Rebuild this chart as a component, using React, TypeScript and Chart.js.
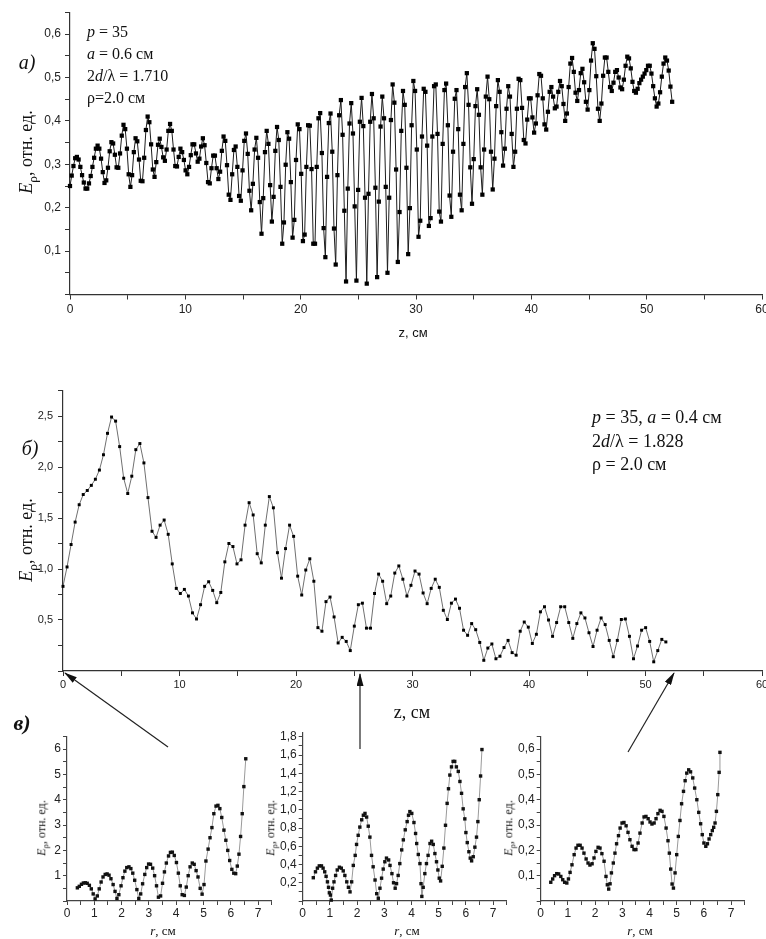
import React, { useEffect, useRef } from "react";
import { Chart, registerables } from "chart.js";

Chart.register(...registerables);

// ---------- chart а): E_rho along z (p = 35, a = 0.6 cm) ----------
const A_DZ = 0.1496; // sampling step along z, cm
const A_VALUES = [
  0.25, 0.274, 0.296, 0.314, 0.317, 0.311, 0.294, 0.275, 0.258, 0.244,
  0.244, 0.256, 0.273, 0.294, 0.315, 0.336, 0.343, 0.336, 0.313, 0.282,
  0.257, 0.263, 0.292, 0.33, 0.351, 0.348, 0.322, 0.293, 0.292, 0.325,
  0.366, 0.391, 0.381, 0.336, 0.277, 0.248, 0.275, 0.328, 0.36, 0.353,
  0.311, 0.262, 0.261, 0.315, 0.379, 0.41, 0.397, 0.346, 0.288, 0.271,
  0.305, 0.345, 0.359, 0.34, 0.316, 0.308, 0.334, 0.377, 0.393, 0.377,
  0.334, 0.296, 0.295, 0.317, 0.336, 0.328, 0.31, 0.286, 0.277, 0.294,
  0.321, 0.346, 0.346, 0.325, 0.306, 0.313, 0.341, 0.36, 0.344, 0.303,
  0.259,
  0.256, 0.291, 0.32, 0.32, 0.291, 0.266, 0.283, 0.331, 0.364, 0.354,
  0.298, 0.23, 0.218, 0.277, 0.333, 0.341, 0.294, 0.227, 0.216, 0.286,
  0.354, 0.371, 0.324, 0.239, 0.194, 0.255, 0.334, 0.361, 0.315, 0.213,
  0.14, 0.222, 0.328, 0.377, 0.347, 0.252, 0.168, 0.225, 0.331, 0.386,
  0.356, 0.248, 0.117, 0.166, 0.299, 0.374, 0.359, 0.259, 0.131, 0.172,
  0.31, 0.392, 0.381, 0.278, 0.123, 0.138, 0.294, 0.39, 0.389, 0.289,
  0.117, 0.117, 0.294, 0.406, 0.418, 0.326, 0.153, 0.086, 0.271, 0.395,
  0.417, 0.329, 0.152, 0.069, 0.275, 0.413, 0.448, 0.368, 0.193, 0.03,
  0.244, 0.394, 0.441, 0.371, 0.203, 0.032, 0.241, 0.398, 0.453, 0.388,
  0.223, 0.025, 0.232,
  0.398, 0.462, 0.406, 0.246, 0.04, 0.214, 0.387, 0.456, 0.406, 0.248,
  0.05, 0.223, 0.402, 0.484, 0.442, 0.288, 0.075, 0.19, 0.377, 0.469,
  0.437, 0.292, 0.093, 0.199, 0.39, 0.492, 0.469, 0.334, 0.133, 0.17,
  0.364, 0.474, 0.467, 0.343, 0.158, 0.176, 0.364, 0.48, 0.484, 0.37,
  0.191, 0.168, 0.347, 0.471, 0.486, 0.39, 0.228, 0.179, 0.329, 0.451,
  0.471, 0.381, 0.23, 0.194, 0.347, 0.478, 0.51, 0.437, 0.293, 0.209,
  0.312, 0.434, 0.473, 0.414, 0.293, 0.23, 0.334, 0.456, 0.502, 0.45,
  0.329, 0.242, 0.313, 0.434, 0.494, 0.467, 0.374, 0.297, 0.336, 0.428,
  0.48, 0.456, 0.37, 0.294, 0.329, 0.428, 0.497,
  0.494, 0.43, 0.356, 0.348, 0.403, 0.452, 0.452, 0.408, 0.373, 0.394,
  0.459, 0.508, 0.504, 0.452, 0.392, 0.38, 0.421, 0.467, 0.478, 0.456,
  0.429, 0.433, 0.467, 0.492, 0.48, 0.439, 0.4, 0.417, 0.478, 0.532,
  0.545, 0.513, 0.465, 0.446, 0.471, 0.51, 0.52, 0.489, 0.444, 0.426,
  0.471, 0.539, 0.579, 0.566, 0.503, 0.428, 0.4, 0.44, 0.504, 0.546,
  0.546, 0.513, 0.478, 0.469, 0.488, 0.513, 0.517, 0.5, 0.477, 0.473,
  0.495, 0.527, 0.548, 0.544, 0.521, 0.49, 0.469, 0.465, 0.474, 0.487,
  0.495, 0.502, 0.509, 0.517, 0.527, 0.527, 0.509, 0.48, 0.452, 0.433,
  0.44, 0.466, 0.502, 0.532, 0.546, 0.539, 0.516, 0.479, 0.444,
];

// ---------- chart б): E_rho along z (p = 35, a = 0.4 cm) ----------
const B_DZ = 0.3473; // sampling step along z, cm
const B_VALUES = [
  0.83, 1.02, 1.24, 1.46, 1.63, 1.73, 1.77, 1.82, 1.88, 1.97,
  2.12, 2.33, 2.49, 2.45, 2.2, 1.89, 1.74, 1.91, 2.17, 2.23,
  2.04, 1.7, 1.37, 1.31, 1.43, 1.48, 1.34, 1.05, 0.81, 0.76,
  0.8, 0.735, 0.57, 0.51, 0.65, 0.83, 0.875, 0.79, 0.67, 0.77,
  1.07, 1.25, 1.22, 1.05, 1.09, 1.43, 1.65, 1.53, 1.15, 1.06,
  1.43, 1.71, 1.6, 1.16, 0.91, 1.2, 1.43, 1.32, 0.93, 0.745,
  0.99, 1.1, 0.88, 0.425, 0.39, 0.68, 0.725, 0.53, 0.275, 0.33,
  0.29, 0.2, 0.44, 0.65, 0.665, 0.42, 0.42, 0.76, 0.95, 0.88,
  0.66, 0.735, 0.96, 1.03, 0.9, 0.735, 0.84, 0.98, 0.95, 0.765,
  0.66, 0.81, 0.9, 0.82, 0.595, 0.505, 0.665, 0.705, 0.615, 0.4,
  0.35, 0.465, 0.405, 0.28, 0.105, 0.225, 0.265, 0.12, 0.145, 0.23,
  0.3, 0.18, 0.155, 0.39, 0.48, 0.43, 0.27, 0.36, 0.58, 0.63,
  0.5, 0.34, 0.475, 0.63, 0.63, 0.475, 0.32, 0.465, 0.57, 0.52,
  0.375, 0.24, 0.4, 0.52, 0.455, 0.3, 0.14, 0.3, 0.505, 0.51,
  0.34, 0.12, 0.245, 0.4, 0.425, 0.29, 0.09, 0.2, 0.31, 0.285,
];

// ---------- chart в) left: radial profile at z = 0 ----------
const C1_R = [
  0.38, 0.45, 0.53, 0.6, 0.67, 0.74, 0.82, 0.89, 0.96, 1.03,
  1.11, 1.18, 1.25, 1.32, 1.4, 1.47, 1.54, 1.61, 1.69, 1.76,
  1.83, 1.9, 1.98, 2.05, 2.12, 2.19, 2.27, 2.34, 2.41, 2.48,
  2.56, 2.63, 2.7, 2.77, 2.85, 2.92, 2.99, 3.06, 3.14, 3.21,
  3.28, 3.35, 3.43, 3.5, 3.57, 3.64, 3.72, 3.79, 3.86, 3.93,
  4.01, 4.08, 4.15, 4.22, 4.3, 4.37, 4.44, 4.51, 4.59, 4.66,
  4.73, 4.8, 4.88, 4.95, 5.02, 5.09, 5.17, 5.24, 5.31, 5.38,
  5.46, 5.53, 5.6, 5.67, 5.75, 5.82, 5.89, 5.96, 6.04, 6.11,
  6.18, 6.24, 6.3, 6.36, 6.42, 6.48, 6.55,
];
const C1_VALUES = [
  0.52, 0.58, 0.66, 0.71, 0.72, 0.7, 0.62, 0.48, 0.28, 0.08,
  0.2, 0.48, 0.75, 0.95, 1.05, 1.07, 1.02, 0.88, 0.65, 0.38,
  0.1, 0.25, 0.6, 0.92, 1.18, 1.32, 1.35, 1.28, 1.1, 0.82,
  0.45, 0.1, 0.28, 0.68, 1.05, 1.32, 1.46, 1.45, 1.3, 1.0,
  0.6, 0.15, 0.2, 0.7, 1.15, 1.5, 1.78, 1.92, 1.93, 1.8,
  1.52, 1.1, 0.6, 0.25, 0.22, 0.55, 1.0, 1.35, 1.5, 1.45,
  1.2, 0.95, 0.5, 0.27, 0.65, 1.58, 2.05, 2.5, 2.9, 3.45,
  3.75, 3.78, 3.65, 3.3, 2.8, 2.4, 2.0, 1.6, 1.25, 1.1,
  1.08, 1.38, 1.85, 2.55, 3.45, 4.52, 5.62,
];

// ---------- chart в) middle: radial profile at z ≈ 25.5 ----------
const C2_R = [
  0.39, 0.47, 0.54, 0.61, 0.69, 0.75, 0.81, 0.86, 0.91, 0.95,
  0.98, 1.02, 1.05, 1.1, 1.15, 1.21, 1.27, 1.35, 1.42, 1.49,
  1.55, 1.62, 1.68, 1.74, 1.8, 1.86, 1.93, 1.98, 2.04, 2.1,
  2.17, 2.23, 2.29, 2.35, 2.41, 2.47, 2.53, 2.59, 2.66, 2.72,
  2.78, 2.84, 2.9, 2.96, 3.02, 3.08, 3.16, 3.21, 3.28, 3.34,
  3.4, 3.45, 3.51, 3.57, 3.64, 3.7, 3.77, 3.84, 3.89, 3.94,
  4.01, 4.09, 4.15, 4.19, 4.25, 4.31, 4.35, 4.38, 4.43, 4.49,
  4.55, 4.61, 4.68, 4.74, 4.8, 4.86, 4.92, 4.97, 5.02, 5.07,
  5.13, 5.19, 5.25, 5.31, 5.36, 5.41, 5.47, 5.53, 5.59, 5.65,
  5.72, 5.78, 5.84, 5.9, 5.96, 6.0, 6.05, 6.11, 6.16, 6.21,
  6.27, 6.33, 6.39, 6.44, 6.49, 6.54, 6.59,
];
const C2_VALUES = [
  0.255, 0.32, 0.36, 0.385, 0.385, 0.36, 0.32, 0.27, 0.21, 0.15,
  0.09, 0.065, 0.01, 0.14, 0.21, 0.28, 0.34, 0.37, 0.36, 0.33,
  0.28, 0.21, 0.15, 0.1, 0.21, 0.39, 0.5, 0.62, 0.72, 0.81,
  0.89, 0.94, 0.96, 0.92, 0.82, 0.7, 0.5, 0.375, 0.23, 0.08,
  0.03, 0.14, 0.25, 0.35, 0.43, 0.47, 0.45, 0.39, 0.3, 0.2,
  0.14, 0.19, 0.28, 0.41, 0.56, 0.67, 0.78, 0.87, 0.94, 0.98,
  0.96, 0.86, 0.74, 0.63, 0.51, 0.41, 0.19, 0.05, 0.15, 0.3,
  0.41, 0.5, 0.63, 0.655, 0.62, 0.52, 0.43, 0.34, 0.25, 0.22,
  0.38, 0.58, 0.83, 1.07, 1.23, 1.38, 1.47, 1.53, 1.53, 1.47,
  1.42, 1.31, 1.18, 1.01, 0.9, 0.75, 0.64, 0.54, 0.47, 0.44,
  0.485, 0.59, 0.7, 0.87, 1.11, 1.37, 1.66,
];

// ---------- chart в) right: radial profile at z ≈ 52.5 ----------
const C3_R = [
  0.37, 0.44, 0.51, 0.59, 0.66, 0.74, 0.81, 0.88, 0.96, 1.02,
  1.08, 1.15, 1.23, 1.3, 1.37, 1.45, 1.52, 1.59, 1.67, 1.74,
  1.81, 1.89, 1.96, 2.03, 2.11, 2.18, 2.25, 2.33, 2.4, 2.45,
  2.5, 2.55, 2.6, 2.67, 2.73, 2.79, 2.86, 2.92, 2.99, 3.06,
  3.14, 3.21, 3.28, 3.36, 3.43, 3.5, 3.58, 3.65, 3.73, 3.8,
  3.87, 3.95, 4.02, 4.09, 4.17, 4.24, 4.31, 4.39, 4.46, 4.53,
  4.61, 4.68, 4.73, 4.78, 4.83, 4.88, 4.94, 5.0, 5.06, 5.12,
  5.18, 5.25, 5.31, 5.37, 5.44, 5.51, 5.59, 5.66, 5.74, 5.81,
  5.88, 5.94, 6.0, 6.07, 6.13, 6.19, 6.25, 6.31, 6.36, 6.41,
  6.46, 6.51, 6.56, 6.59,
];
const C3_VALUES = [
  0.074, 0.087, 0.1, 0.108, 0.107, 0.097, 0.084, 0.074, 0.071, 0.087,
  0.113, 0.143, 0.183, 0.209, 0.22, 0.22, 0.209, 0.189, 0.166, 0.15,
  0.142, 0.147, 0.17, 0.196, 0.212, 0.209, 0.187, 0.157, 0.097, 0.064,
  0.047, 0.068, 0.111, 0.15, 0.189, 0.226, 0.258, 0.288, 0.308, 0.31,
  0.297, 0.271, 0.242, 0.216, 0.203, 0.203, 0.229, 0.268, 0.308, 0.332,
  0.334, 0.325, 0.312, 0.304, 0.308, 0.325, 0.345, 0.358, 0.354, 0.334,
  0.288, 0.238, 0.189, 0.126, 0.067, 0.051, 0.111, 0.183, 0.255, 0.318,
  0.384, 0.433, 0.475, 0.505, 0.518, 0.51, 0.486, 0.446, 0.4, 0.35,
  0.305, 0.262, 0.229, 0.216, 0.226, 0.245, 0.262, 0.278, 0.291, 0.308,
  0.354, 0.42, 0.508, 0.587,
];

// ---------- axis ranges / tick steps ----------
const Z_MAX = 60;
const Z_TICK_STEP = 5;
const Z_LABEL_STEP = 10;
const A_Y_MAX = 0.65;
const B_Y_MAX = 2.75;
const R_MAX = 7.5;
const C1_Y_MAX = 6.5;
const C2_Y_MAX = 1.85;
const C3_Y_MAX = 0.65;

const SERIF = "'Liberation Serif','Times New Roman',serif";
const SANS = "'Liberation Sans',Arial,sans-serif";
const NARROW = "'Liberation Sans Narrow','Liberation Sans',Arial,sans-serif";

const isMult = (v: number, s: number) => Math.abs(v / s - Math.round(v / s)) < 1e-6;
const fmt1 = (v: number) => v.toFixed(1).replace(".", ",");
const labelEvery = (s: number, dec: boolean, skipZero: boolean) => (v: number) => {
  if (!isMult(v, s)) return "";
  if (skipZero && Math.abs(v) < 1e-9) return "";
  return dec ? fmt1(v) : String(Math.round(v));
};

type Spec = {
  left: number; top: number; width: number; height: number;
  area: { left: number; top: number; right: number; bottom: number };
  xs: number[]; ys: number[];
  xMax: number; xStep: number; xLabel: (v: number) => string;
  yMax: number; yStep: number; yLabel: (v: number) => string;
  font: { family: string; size: number };
  tickLen: number; xPad: number; yPad: number;
  lineColor: string; lineWidth: number;
  pointRadius: number; pointColor: string;
  axisColor: string;
};

function buildConfig(s: Spec): any {
  const pts = s.ys.map((y, i) => ({ x: s.xs[i], y }));
  const grid = {
    display: true, drawOnChartArea: false, drawTicks: true,
    tickLength: s.tickLen, color: s.axisColor, lineWidth: 1,
  };
  const border = { display: true, color: s.axisColor, width: 1.2 };
  return {
    type: "line",
    data: {
      datasets: [{
        data: pts,
        borderColor: s.lineColor,
        borderWidth: s.lineWidth,
        pointStyle: "rect",
        pointRadius: s.pointRadius,
        pointHoverRadius: s.pointRadius,
        pointBackgroundColor: s.pointColor,
        pointBorderWidth: 0,
        tension: 0,
        fill: false,
        clip: false,
      }],
    },
    options: {
      animation: false,
      responsive: false,
      maintainAspectRatio: false,
      events: [],
      layout: { padding: { left: 0, top: s.area.top, right: s.width - s.area.right, bottom: 0 } },
      plugins: { legend: { display: false }, tooltip: { enabled: false }, title: { display: false } },
      scales: {
        x: {
          type: "linear", min: 0, max: s.xMax,
          afterFit: (sc: any) => { sc.height = s.height - s.area.bottom; sc.paddingLeft = 0; sc.paddingRight = 0; },
          ticks: {
            stepSize: s.xStep, autoSkip: false, maxRotation: 0, minRotation: 0, includeBounds: false,
            callback: (v: any) => s.xLabel(Number(v)), font: s.font, color: "#222", padding: s.xPad,
          },
          grid, border,
        },
        y: {
          type: "linear", min: 0, max: s.yMax,
          afterFit: (sc: any) => { sc.width = s.area.left; sc.paddingTop = 0; sc.paddingBottom = 0; },
          ticks: {
            stepSize: s.yStep, autoSkip: false, includeBounds: false,
            callback: (v: any) => s.yLabel(Number(v)), font: s.font, color: "#222", padding: s.yPad,
          },
          grid, border,
        },
      },
    },
  };
}

function Plot({ spec }: { spec: Spec }) {
  const ref = useRef<HTMLCanvasElement>(null);
  useEffect(() => {
    const chart = new Chart(ref.current as HTMLCanvasElement, buildConfig(spec));
    return () => chart.destroy();
  }, []);
  return (
    <canvas
      ref={ref}
      width={spec.width}
      height={spec.height}
      style={{ position: "absolute", left: spec.left, top: spec.top, width: spec.width, height: spec.height }}
    />
  );
}

const A_Z = A_VALUES.map((_, i) => i * A_DZ);
const B_Z = B_VALUES.map((_, i) => i * B_DZ);

const specA: Spec = {
  left: 0, top: 0, width: 766, height: 345,
  area: { left: 70, top: 12.4, right: 762, bottom: 294.5 },
  xs: A_Z, ys: A_VALUES,
  xMax: Z_MAX, xStep: Z_TICK_STEP, xLabel: labelEvery(Z_LABEL_STEP, false, false),
  yMax: A_Y_MAX, yStep: 0.05, yLabel: labelEvery(0.1, true, true),
  font: { family: SANS, size: 12 }, tickLen: 5, xPad: 3, yPad: 4,
  lineColor: "#1c1c1c", lineWidth: 1, pointRadius: 3, pointColor: "#000", axisColor: "#333",
};

const specB: Spec = {
  left: 0, top: 380, width: 766, height: 345,
  area: { left: 63, top: 10.5, right: 762, bottom: 291 },
  xs: B_Z, ys: B_VALUES,
  xMax: Z_MAX, xStep: Z_TICK_STEP, xLabel: labelEvery(Z_LABEL_STEP, false, false),
  yMax: B_Y_MAX, yStep: 0.25, yLabel: labelEvery(0.5, true, true),
  font: { family: NARROW, size: 11 }, tickLen: 5, xPad: 2, yPad: 5,
  lineColor: "#707070", lineWidth: 1, pointRadius: 2.1, pointColor: "#000", axisColor: "#333",
};

const specC1: Spec = {
  left: 0, top: 725, width: 280, height: 214,
  area: { left: 67, top: 11.5, right: 271.7, bottom: 176 },
  xs: C1_R, ys: C1_VALUES,
  xMax: R_MAX, xStep: 0.5, xLabel: labelEvery(1, false, false),
  yMax: C1_Y_MAX, yStep: 0.5, yLabel: labelEvery(1, false, true),
  font: { family: SANS, size: 12 }, tickLen: 4, xPad: 1, yPad: 2,
  lineColor: "#9a9a9a", lineWidth: 1, pointRadius: 2.4, pointColor: "#111", axisColor: "#444",
};

const specC2: Spec = {
  left: 230, top: 725, width: 280, height: 214,
  area: { left: 72.7, top: 7.2, right: 276.7, bottom: 176 },
  xs: C2_R, ys: C2_VALUES,
  xMax: R_MAX, xStep: 0.5, xLabel: labelEvery(1, false, false),
  yMax: C2_Y_MAX, yStep: 0.1, yLabel: labelEvery(0.2, true, true),
  font: { family: SANS, size: 12 }, tickLen: 4, xPad: 1, yPad: 2,
  lineColor: "#9a9a9a", lineWidth: 1, pointRadius: 2.4, pointColor: "#111", axisColor: "#444",
};

const specC3: Spec = {
  left: 480, top: 725, width: 286, height: 214,
  area: { left: 60.7, top: 11.4, right: 264.7, bottom: 176 },
  xs: C3_R, ys: C3_VALUES,
  xMax: R_MAX, xStep: 0.5, xLabel: labelEvery(1, false, false),
  yMax: C3_Y_MAX, yStep: 0.05, yLabel: labelEvery(0.1, true, true),
  font: { family: SANS, size: 12 }, tickLen: 4, xPad: 1, yPad: 2,
  lineColor: "#9a9a9a", lineWidth: 1, pointRadius: 2.4, pointColor: "#111", axisColor: "#444",
};

const txt = (x: number, y: number, size: number, family: string, extra: any = {}) => ({
  position: "absolute" as const, left: x, top: y, fontSize: size, fontFamily: family,
  color: "#111", whiteSpace: "nowrap" as const, lineHeight: 1, ...extra,
});
const centered = (x: number, y: number, size: number, family: string, extra: any = {}) =>
  txt(x, y, size, family, { transform: "translate(-50%,-50%)", ...extra });
const rotated = (x: number, y: number, size: number) =>
  txt(x, y, size, SERIF, { transform: "translate(-50%,-50%) rotate(-90deg)" });

function YTitle({ x, y, size }: { x: number; y: number; size: number }) {
  return (
    <div style={rotated(x, y, size)}>
      <i>E</i><sub style={{ fontSize: "0.75em" }}>ρ</sub>, отн. ед.
    </div>
  );
}

export default function App() {
  return (
    <div style={{ position: "absolute", left: 0, top: 0, width: 766, height: 939, overflow: "hidden", background: "#fff" }}>
      <Plot spec={specA} />
      <Plot spec={specB} />
      <Plot spec={specC1} />
      <Plot spec={specC2} />
      <Plot spec={specC3} />

      {/* chart а) texts */}
      <div style={centered(27, 62, 20, SERIF, { fontStyle: "italic" })}>а)</div>
      <div style={txt(87, 24, 16, SERIF)}><i>p</i> = 35</div>
      <div style={txt(87, 46, 16, SERIF)}><i>a</i> = 0.6 см</div>
      <div style={txt(87, 68, 16, SERIF)}>2<i>d</i>/λ = 1.710</div>
      <div style={txt(87, 90, 16, SERIF)}>ρ=2.0 см</div>
      <YTitle x={28} y={152} size={18} />
      <div style={centered(413, 332, 13, SANS)}>z, см</div>

      {/* chart б) texts */}
      <div style={centered(30, 448, 20, SERIF, { fontStyle: "italic" })}>б)</div>
      <div style={txt(592, 408, 18, SERIF)}><i>p</i> = 35, <i>a</i> = 0.4 см</div>
      <div style={txt(592, 432, 18, SERIF)}>2<i>d</i>/λ = 1.828</div>
      <div style={txt(592, 455, 18, SERIF)}>ρ = 2.0 см</div>
      <YTitle x={28} y={540} size={18} />
      <div style={centered(412, 712, 18, SERIF)}>z, см</div>

      {/* chart в) texts */}
      <div style={centered(22, 723, 22, SERIF, { fontStyle: "italic", fontWeight: "bold" })}>в)</div>
      <YTitle x={43} y={828} size={12} />
      <YTitle x={272} y={828} size={12} />
      <YTitle x={510} y={828} size={12} />
      <div style={centered(163, 930, 13, SERIF)}><i>r</i>, см</div>
      <div style={centered(407, 930, 13, SERIF)}><i>r</i>, см</div>
      <div style={centered(640, 930, 13, SERIF)}><i>r</i>, см</div>

      {/* arrows from profiles to z positions */}
      <svg width={766} height={939} style={{ position: "absolute", left: 0, top: 0, pointerEvents: "none" }}>
        <defs>
          <marker id="ah" markerWidth="13" markerHeight="7" refX="12" refY="3.5" orient="auto" markerUnits="userSpaceOnUse">
            <path d="M0,0 L13,3.5 L0,7 z" fill="#111" />
          </marker>
        </defs>
        <line x1={168} y1={747} x2={65} y2={673} stroke="#222" strokeWidth={1.2} markerEnd="url(#ah)" />
        <line x1={360} y1={749} x2={360} y2={674} stroke="#222" strokeWidth={1.2} markerEnd="url(#ah)" />
        <line x1={628} y1={752} x2={674} y2={673} stroke="#222" strokeWidth={1.2} markerEnd="url(#ah)" />
      </svg>
    </div>
  );
}
